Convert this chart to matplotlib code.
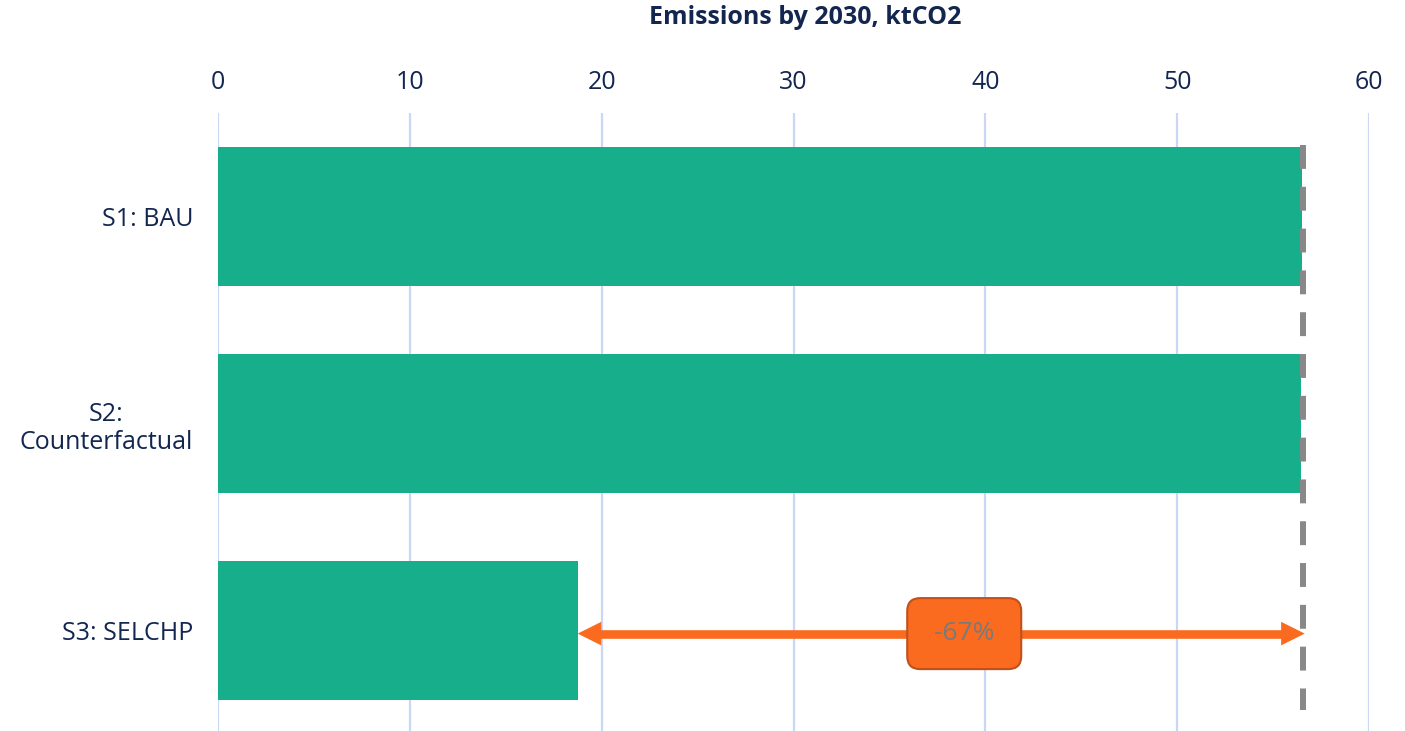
import matplotlib.pyplot as plt
import matplotlib.transforms as mtransforms
from matplotlib.patches import FancyArrowPatch, FancyBboxPatch

# data
scenarios = ["S1: BAU", "S2:\nCounterfactual", "S3: SELCHP"]
emissions = [56.5, 56.45, 18.75]
change_label = "-67%"

navy = "#13264f"
green = "#16ae8b"
orange = "#fa6a1f"
grid_blue = "#cad8f5"

plt.rcParams["font.family"] = ["Open Sans", "DejaVu Sans"]

fig = plt.figure(figsize=(14.05, 7.31), dpi=100)
ax = fig.add_axes([218 / 1405, 0, (1369 - 218) / 1405, 1 - 113 / 731])

ypos = list(range(len(scenarios)))
ax.barh(ypos, emissions, height=0.667, color=green, zorder=2)

ax.set_xlim(0, 60)
ax.set_ylim(2.4855, -0.5)
ax.set_xticks(range(0, 61, 10))
ax.set_yticks(ypos)
ax.set_yticklabels(scenarios, ha="right", multialignment="center")
ax.xaxis.tick_top()
ax.tick_params(axis="x", length=0, pad=13, labelsize=18, labelcolor=navy)
ax.tick_params(axis="y", length=0, pad=18, labelsize=18, labelcolor=navy)
ax.grid(axis="x", color=grid_blue, linewidth=1.6, zorder=0)
for s in ax.spines.values():
    s.set_visible(False)

# reference line at the baseline level
base = max(emissions)
ax.plot([base + 0.07, base + 0.07], [-0.345, 2.384], color="#888888", lw=4.3,
        linestyle=(0, (4, 3)), solid_capstyle="butt", dash_capstyle="butt", zorder=3)

# arrow between S3 and baseline
left, right = emissions[2], base + 0.15
ay = 2.015
head = 1.2
ax.plot([left + head * 0.9, right - head * 0.9], [ay, ay], color=orange, lw=6.2,
        solid_capstyle="butt", zorder=4)
arr = FancyArrowPatch((left, ay), (right, ay),
                      arrowstyle="<|-|>,head_length=1.0,head_width=0.5",
                      mutation_scale=17, lw=0, color=orange,
                      shrinkA=0, shrinkB=0, zorder=4)
ax.add_patch(arr)

# label box
trans = mtransforms.IdentityTransform() + mtransforms.ScaledTranslation(38.9, ay, ax.transData)
box = FancyBboxPatch((-57, -35.5), 114, 71, boxstyle="round,pad=0,rounding_size=13",
                     facecolor=orange, edgecolor="#c2501a", lw=1.5,
                     transform=trans, zorder=5)
ax.add_patch(box)
ax.text(38.9, ay, change_label, ha="center", va="center", fontsize=19,
        color="#7a7a7a", zorder=6)

fig.text(805 / 1405, 1 - 18 / 731, "Emissions by 2030, ktCO2", ha="center", va="center",
         fontsize=18, fontweight="bold", color=navy)

fig.savefig("out.png", dpi=100)
